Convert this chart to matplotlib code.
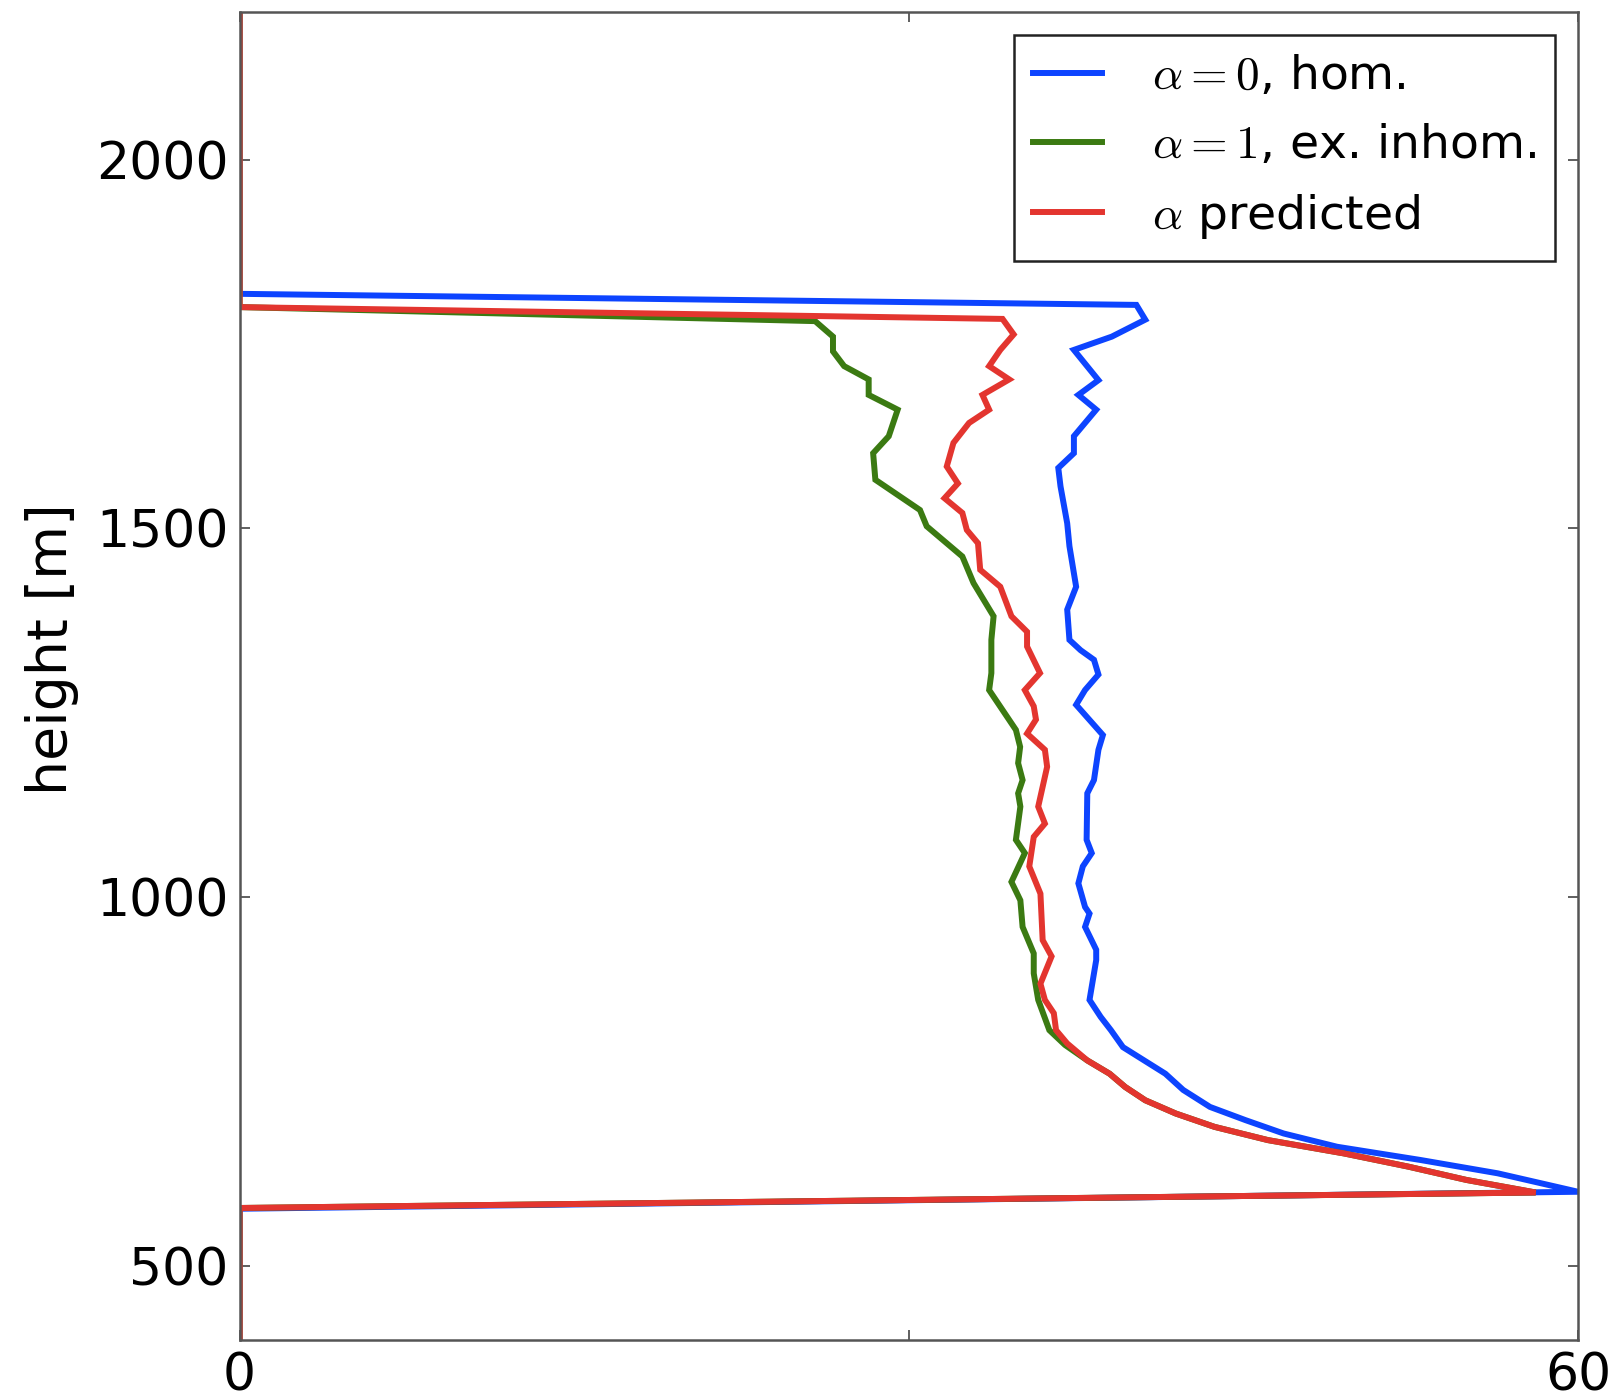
import matplotlib
matplotlib.use("Agg")
import matplotlib.pyplot as plt

plt.rcParams['font.family'] = ['DejaVu Sans']
plt.rcParams['mathtext.fontset'] = 'cm'

# ---- data ----
labels = [r'$\alpha=0$, hom.', r'$\alpha=1$, ex. inhom.', r'$\alpha$ predicted']
colors = ['#0d44ff', '#3b7a12', '#e3352f']

h_hom = [400, 578, 601, 626, 644, 662, 680, 698, 716, 739, 761, 797, 820, 838, 861,
         915, 929, 960, 978, 987, 1019, 1042, 1060, 1078, 1141, 1159, 1200, 1220,
         1261, 1281, 1302, 1322, 1335, 1349, 1390, 1421, 1476, 1507, 1557, 1582,
         1602, 1625, 1661, 1681, 1701, 1742, 1760, 1783, 1803, 1818, 2200]
v_hom = [0, 0, 60, 56.4, 52.95, 49.2, 46.8, 45.1, 43.5, 42.3, 41.5, 39.6, 39.06, 38.6, 38.1,
         38.4, 38.4, 37.9, 38.1, 37.9, 37.6, 37.8, 38.2, 37.97, 38.0, 38.3, 38.5, 38.7,
         37.5, 37.9, 38.5, 38.3, 37.7, 37.2, 37.1, 37.5, 37.2, 37.1, 36.8, 36.7,
         37.4, 37.4, 38.4, 37.6, 38.5, 37.4, 39.1, 40.6, 40.2, 0, 0]

h_inh = [400, 579, 600, 617, 635, 653, 671, 689, 707, 725, 743, 761, 779, 800, 820, 861,
         897, 924, 960, 996, 1021, 1060, 1078, 1123, 1141, 1159, 1182, 1204, 1227,
         1281, 1304, 1349, 1381, 1426, 1462, 1503, 1525, 1566, 1602, 1625, 1661,
         1681, 1702, 1720, 1740, 1760, 1781, 1800, 2200]
v_inh = [0, 0, 58.1, 55.0, 52.4, 49.5, 46.1, 43.7, 41.97, 40.6, 39.7, 39.0, 38.0, 37.0, 36.3, 35.8,
         35.6, 35.6, 35.1, 35.0, 34.6, 35.2, 34.8, 35.0, 34.9, 35.1, 34.9, 34.99, 34.8,
         33.6, 33.7, 33.7, 33.8, 32.9, 32.4, 30.8, 30.5, 28.5, 28.4, 29.1, 29.5,
         28.2, 28.2, 27.1, 26.6, 26.6, 25.8, 0, 0]

h_pred = [400, 579, 600, 617, 635, 653, 671, 689, 707, 725, 743, 761, 779, 802, 820, 843, 861,
          883, 920, 942, 1005, 1042, 1082, 1100, 1123, 1177, 1200, 1222, 1241, 1259,
          1281, 1304, 1340, 1360, 1381, 1421, 1444, 1480, 1498, 1521, 1541, 1561,
          1584, 1616, 1643, 1661, 1681, 1702, 1720, 1742, 1763, 1784, 1800, 2200]
v_pred = [0, 0, 58.1, 55.0, 52.4, 49.5, 46.1, 43.7, 41.97, 40.6, 39.7, 39.0, 38.0, 37.1, 36.6, 36.5, 36.1,
          35.9, 36.4, 36.0, 35.9, 35.4, 35.6, 36.1, 35.8, 36.2, 36.1, 35.3, 35.7, 35.6,
          35.2, 35.88, 35.3, 35.3, 34.6, 34.1, 33.2, 33.1, 32.6, 32.4, 31.6, 32.2,
          31.7, 32.0, 32.7, 33.6, 33.3, 34.5, 33.6, 34.1, 34.7, 34.2, 0, 0]

x_ticks = [0, 30, 60]
x_ticklabels = ['0', '', '60']
y_ticks = [500, 1000, 1500, 2000]

# ---- figure ----
fig = plt.figure(figsize=(16.19, 13.93), dpi=100)
ax = fig.add_axes([0.148, 0.038, 0.8267, 0.9534])

series = [(v_hom, h_hom), (v_inh, h_inh), (v_pred, h_pred)]
for (v, h), c, lab in zip(series, colors, labels):
    ax.plot(v, h, color=c, lw=4.3, label=lab, solid_joinstyle='miter')

ax.set_xlim(0, 60)
ax.set_ylim(400, 2200)
ax.set_xticks(x_ticks)
ax.set_xticklabels(x_ticklabels)
ax.set_yticks(y_ticks)
ax.tick_params(direction='in', length=7, width=1.2, color='#444444',
               labelsize=37.5, pad=8, top=True, right=True)
for s in ax.spines.values():
    s.set_color('#555555')
    s.set_linewidth(1.8)

ax.set_ylabel('height [m]', fontsize=40)
ax.yaxis.set_label_coords(-0.12, 0.52)

leg = ax.legend(loc='upper right', fontsize=34, handlelength=1.45, handletextpad=1.05,
                labelspacing=0.5, borderpad=0.42, borderaxespad=0.48,
                fancybox=False, framealpha=1)
leg.get_frame().set_edgecolor('#222222')
leg.get_frame().set_linewidth(1.8)

fig.savefig('out.png', dpi=100)
